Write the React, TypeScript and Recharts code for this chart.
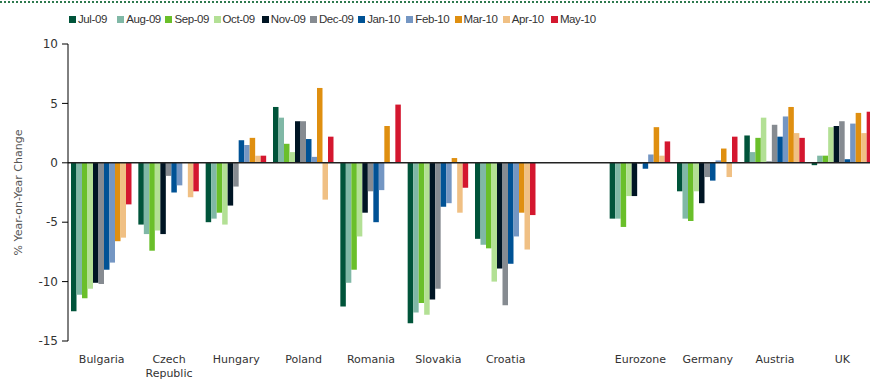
import { BarChart, Bar, XAxis, YAxis, ReferenceLine } from 'recharts'

const countries = ['Bulgaria', 'Czech Republic', 'Hungary', 'Poland', 'Romania', 'Slovakia', 'Croatia', '', 'Eurozone', 'Germany', 'Austria', 'UK']

const jul09 = [-12.5, -5.2, -5.0, 4.7, -12.1, -13.5, -6.4, null, -4.7, -2.4, 2.3, -0.2]
const aug09 = [-11.1, -6.0, -4.7, 3.8, -10.1, -12.6, -6.9, null, -4.7, -4.7, 0.9, 0.6]
const sep09 = [-11.4, -7.4, -4.2, 1.6, -9.0, -11.8, -7.2, null, -5.4, -4.9, 2.1, 0.6]
const oct09 = [-10.6, -5.7, -5.2, 0.9, -6.2, -12.8, -10.0, null, -2.8, -2.4, 3.8, 3.0]
const nov09 = [-10.1, -6.0, -3.6, 3.5, -4.2, -11.5, -8.9, null, -2.8, -3.4, 0.1, 3.1]
const dec09 = [-10.2, -1.1, -2.0, 3.5, -2.4, -10.6, -12.0, null, -0.1, -1.2, 3.2, 3.5]
const jan10 = [-9.0, -2.5, 1.9, 2.0, -5.0, -3.7, -8.5, null, -0.5, -1.5, 2.2, 0.3]
const feb10 = [-8.4, -1.9, 1.5, 0.5, -2.3, -3.4, -6.2, null, 0.7, 0.2, 3.9, 3.3]
const mar10 = [-6.6, 0, 2.1, 6.3, 3.1, 0.4, -4.2, null, 3.0, 1.2, 4.7, 4.2]
const apr10 = [-6.3, -2.9, 0.6, -3.1, 0, -4.2, -7.3, null, 0.6, -1.2, 2.5, 2.5]
const may10 = [-3.5, -2.4, 0.6, 2.2, 4.9, -2.1, -4.4, null, 1.8, 2.2, 2.1, 4.3]

const yTicks = [-15, -10, -5, 0, 5, 10]

const series = [
  { key: 'Jul-09', values: jul09, color: '#00543a' },
  { key: 'Aug-09', values: aug09, color: '#80b8a6' },
  { key: 'Sep-09', values: sep09, color: '#6abf2a' },
  { key: 'Oct-09', values: oct09, color: '#b3e095' },
  { key: 'Nov-09', values: nov09, color: '#001524' },
  { key: 'Dec-09', values: dec09, color: '#868b91' },
  { key: 'Jan-10', values: jan10, color: '#005295' },
  { key: 'Feb-10', values: feb10, color: '#7496c3' },
  { key: 'Mar-10', values: mar10, color: '#df8f10' },
  { key: 'Apr-10', values: apr10, color: '#f0c084' },
  { key: 'May-10', values: may10, color: '#d4172f' },
]

const data = countries.map((name, i) => {
  const row: Record<string, string | number | null> = { name }
  series.forEach((s) => { row[s.key] = s.values[i] })
  return row
})

const axisFont = '"DejaVu Sans", sans-serif'

function CountryTick({ x, y, payload }: any) {
  const words = String(payload.value).split(' ')
  return (
    <text x={x} y={y} textAnchor="middle" fill="#333" fontSize={11} fontFamily={axisFont}>
      {words.map((w, i) => (
        <tspan key={i} x={x} dy={i === 0 ? '0.71em' : '1.3em'}>{w}</tspan>
      ))}
    </text>
  )
}

function ChartLegend() {
  return (
    <div style={{ position: 'absolute', left: 69, top: 13, display: 'flex', fontFamily: '"Liberation Sans", sans-serif', fontSize: 11.5, color: '#333', whiteSpace: 'nowrap' }}>
      {series.map((s) => (
        <div key={s.key} style={{ width: 48.2, display: 'flex', alignItems: 'center' }}>
          <span style={{ width: 7, height: 7, background: s.color, marginRight: 2, display: 'inline-block', flex: 'none' }} />
          <span style={{ letterSpacing: -0.4 }}>{s.key}</span>
        </div>
      ))}
    </div>
  )
}

export default function App() {
  return (
    <div style={{ position: 'absolute', left: 0, top: 0, width: 870, height: 383, overflow: 'hidden', background: '#fff' }}>
      <div style={{ position: 'absolute', left: 0, top: 1, width: 870, borderTop: '2px dotted #2e7a4f' }} />
      <ChartLegend />
      <BarChart
        width={876}
        height={383}
        data={data}
        margin={{ top: 44, right: 0, bottom: 0, left: 0 }}
        barSize={5.5}
        barGap={0}
      >
        <XAxis
          dataKey="name"
          height={42}
          axisLine={false}
          tickLine={false}
          tickSize={0}
          tickMargin={14}
          interval={0}
          tick={<CountryTick />}
        />
        <YAxis
          width={68}
          domain={[-15, 10]}
          ticks={yTicks}
          allowDataOverflow
          axisLine={{ stroke: '#000' }}
          tickLine={{ stroke: '#000' }}
          tickSize={6}
          tickMargin={4}
          tick={{ fill: '#333', fontSize: 12, fontFamily: axisFont }}
          label={{ value: '% Year-on-Year Change', angle: -90, position: 'center', dx: -16, fill: '#555', fontSize: 11, fontFamily: axisFont }}
        />
        {series.map((s) => (
          <Bar key={s.key} dataKey={s.key} fill={s.color} isAnimationActive={false} />
        ))}
        <ReferenceLine y={0} stroke="#222" strokeWidth={1.5} />
      </BarChart>
    </div>
  )
}
